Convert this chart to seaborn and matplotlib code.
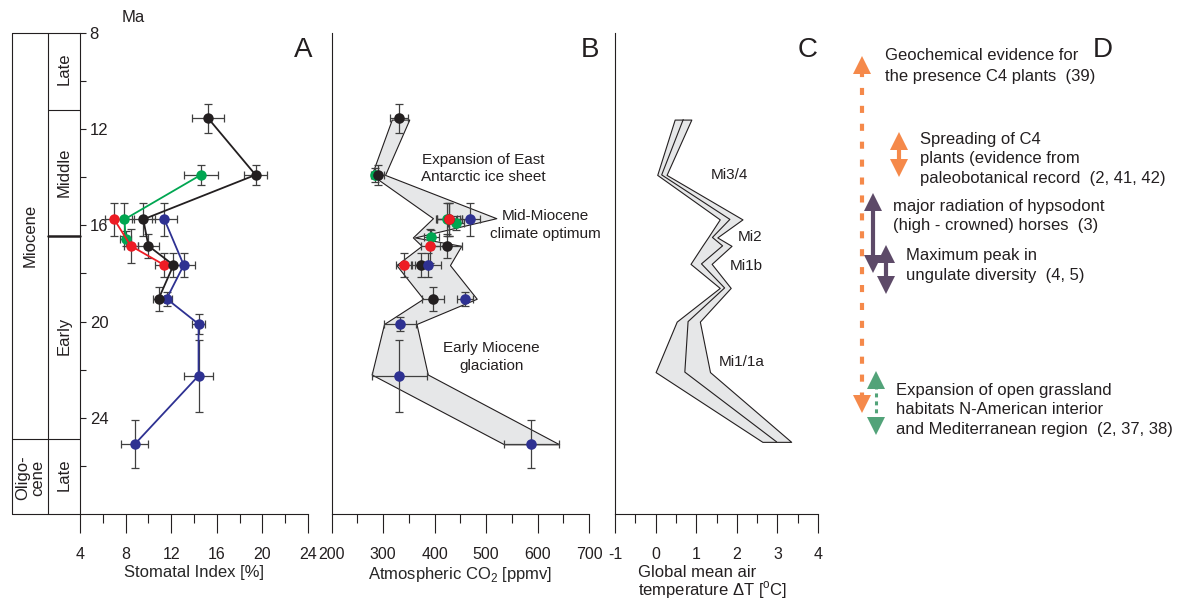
import matplotlib
matplotlib.use('Agg')
import matplotlib.pyplot as plt
import matplotlib.transforms as mtransforms
from matplotlib.ticker import FixedLocator, MultipleLocator
import seaborn as sns

# ---- panel A: stomatal index (Ma, %, errors) ----
a_black_ma = [11.55, 13.9, 15.75, 16.85, 17.65, 19.05]
a_black_si = [15.25, 19.4, 9.55, 10.0, 12.2, 10.9]
a_black_sie = [1.4, 1.0, 1.0, 0.9, 1.0, 0.5]
a_black_mae = [0.6, 0.4, 0.7, 0.5, 0.5, 0.5]

a_green_ma = [13.9, 15.75, 16.55]
a_green_si = [14.6, 7.9, 8.0]
a_green_sie = [1.5, 0.8, 0.5]
a_green_mae = [0.4, 0.7, 0.3]

a_red_ma = [15.75, 16.85, 17.65]
a_red_si = [7.0, 8.45, 11.4]
a_red_sie = [0.8, 0.6, 0.8]
a_red_mae = [0.7, 0.7, 0.5]

a_blue_ma = [15.75, 17.65, 19.05, 20.1, 22.25, 25.1]
a_blue_si = [11.4, 13.1, 11.6, 14.4, 14.4, 8.8]
a_blue_sie = [1.1, 1.0, 0.5, 0.6, 1.25, 1.2]
a_blue_mae = [0.7, 0.5, 0.3, 0.4, 1.5, 1.0]

# ---- panel B: CO2 (Ma, ppmv, errors) ----
b_green_ma = [13.9, 15.75, 15.9, 16.5]
b_green_co2 = [284, 424, 442, 394]
b_green_co2e = [8, 20, 15, 15]
b_green_mae = [0.3, 0.7, 0.3, 0.3]

b_black_ma = [11.55, 13.9, 15.75, 16.85, 17.65, 19.05]
b_black_co2 = [331, 290, 429, 425, 374, 397]
b_black_co2e = [17, 11, 25, 28, 20, 22]
b_black_mae = [0.6, 0.4, 0.7, 0.5, 0.5, 0.5]

b_red_ma = [15.75, 16.85, 17.65]
b_red_co2 = [428, 392, 341]
b_red_co2e = [25, 18, 15]
b_red_mae = [0.7, 0.7, 0.5]

b_blue_ma = [15.75, 17.65, 19.05, 20.1, 22.25, 25.1]
b_blue_co2 = [469, 388, 459, 333, 332, 588]
b_blue_co2e = [20, 25, 15, 32, 54, 53]
b_blue_mae = [0.7, 0.5, 0.3, 0.3, 1.5, 1.0]

# envelope of CO2 estimates
b_env_ma = [11.6, 13.9, 15.7, 16.5, 16.85, 17.65, 19.05, 20.1, 22.2, 25.1]
b_env_left = [317, 278, 397, 358, 375, 326, 378, 302, 278, 535]
b_env_right = [351, 304, 520, 362, 452, 430, 482, 365, 387, 642]

# ---- panel C: global temperature ----
c_ma = [11.6, 13.9, 15.75, 16.5, 16.85, 17.6, 18.6, 20.0, 22.1, 25.0]
c_low = [0.47, 0.04, 1.58, 1.29, 1.15, 0.86, 1.58, 0.52, 0.0, 2.63]
c_mid = [0.68, 0.15, 1.83, 1.40, 1.65, 1.13, 1.70, 0.80, 0.72, 2.98]
c_high = [0.88, 0.27, 2.14, 1.52, 1.87, 1.38, 1.85, 1.09, 1.34, 3.34]

# ---- stratigraphy ----
epoch_bounds = [8, 24.9, 28]
stage_bounds = [8, 11.2, 16.45, 24.9, 28]
stage_names = ['Late', 'Middle', 'Early', 'Late']
stage_label_ma = [9.5, 13.8, 20.6, 26.35]
epoch_names = ['Miocene', 'Oligo-\ncene']
epoch_label_ma = [16.4, 26.5]

# ---- panel D: events ----
arrow_x = [0.063, 0.173, 0.095, 0.134, 0.105]
arrow_top = [8.95, 12.1, 14.67, 16.8, 22.05]
arrow_bottom = [23.8, 14.0, 17.97, 18.85, 24.7]
arrow_kind = ['orange_dash', 'orange', 'purple', 'purple', 'green_dot']

d_lines = ['Geochemical evidence for', 'the presence C4 plants  (39)',
           'Spreading of C4', 'plants (evidence from',
           'paleobotanical record  (2, 41, 42)',
           'major radiation of hypsodont', '(high - crowned) horses  (3)',
           'Maximum peak in', 'ungulate diversity  (4, 5)',
           'Expansion of open grassland', 'habitats N-American interior',
           'and Mediterranean region  (2, 37, 38)']
d_line_x = [0.131, 0.131, 0.233, 0.233, 0.233, 0.155, 0.155, 0.192, 0.192,
            0.163, 0.163, 0.163]
d_line_ma = [8.95, 9.79, 12.42, 13.22, 14.04, 15.21, 16.02, 17.27, 18.07,
             22.88, 23.67, 24.47]

# colours
BLACK = '#231f20'
GREEN = '#00a651'
RED = '#ed1c24'
BLUE = '#2e3192'
ERR = '#404040'
FILL = '#e6e7e8'
ORANGE = '#f5894a'
PURPLE = '#5d4a68'
DGREEN = '#52a379'

sns.set_style('ticks')
plt.rcParams['font.family'] = ['Liberation Sans', 'DejaVu Sans']
plt.rcParams['mathtext.fontset'] = 'custom'
plt.rcParams['mathtext.rm'] = 'Liberation Sans'
plt.rcParams['axes.unicode_minus'] = False
plt.rcParams['text.color'] = BLACK
plt.rcParams['axes.edgecolor'] = BLACK
plt.rcParams['xtick.color'] = BLACK
plt.rcParams['ytick.color'] = BLACK
plt.rcParams['axes.linewidth'] = 0.8

W, H = 1183, 601
fig = plt.figure(figsize=(W / 100, H / 100), dpi=100)
bot = 1 - 514 / H
hgt = 481 / H


def px_axes(x0, x1):
    ax = fig.add_axes([x0 / W, bot, (x1 - x0) / W, hgt])
    ax.set_ylim(28, 8)
    return ax


def style_x(ax, major, minor, label=None):
    ax.xaxis.set_major_locator(MultipleLocator(major))
    ax.xaxis.set_minor_locator(MultipleLocator(minor))
    ax.tick_params(axis='x', which='major', direction='out', length=13.5,
                   width=0.8, pad=10, labelsize=11.5)
    ax.tick_params(axis='x', which='minor', direction='out', length=6.5,
                   width=0.8)
    if label:
        ax.set_xlabel(label, fontsize=12)
        ax.xaxis.set_label_coords(0.5, -0.105)
    sns.despine(ax=ax)
    ax.set_facecolor('none')


# ---- strat column ----
axS = px_axes(12, 80)
axS.set_xlim(0, 1)
axS.axis('off')
split = 0.53
for b in epoch_bounds:
    axS.plot([0, 1], [b, b], color=BLACK, lw=0.8, clip_on=False)
for b in stage_bounds[1:-2]:
    axS.plot([split, 1], [b, b], color=BLACK, lw=1.8 if b > 16 else 0.8,
             clip_on=False)
axS.plot([0, 0], [8, 28], color=BLACK, lw=0.8, clip_on=False)
axS.plot([split, split], [8, 28], color=BLACK, lw=0.8, clip_on=False)
for name, y in zip(stage_names, stage_label_ma):
    axS.text((split + 1) / 2, y, name, rotation=90, ha='center', va='center',
             fontsize=12)
for name, y in zip(epoch_names, epoch_label_ma):
    axS.text(split / 2, y, name, rotation=90, ha='center', va='center',
             fontsize=12, linespacing=1.0)
fig.text(133 / W, 1 - 18 / H, 'Ma', ha='center', va='center', fontsize=12)

# ---- panel A ----
axA = px_axes(80, 308)
axA.set_xlim(4, 24)
style_x(axA, 4, 2, 'Stomatal Index [%]')
axA.yaxis.set_major_locator(FixedLocator([8, 12, 16, 20, 24]))
axA.yaxis.set_minor_locator(FixedLocator([10, 14, 18, 22, 26]))
axA.tick_params(axis='y', which='both', direction='in', length=4, width=0.8,
                pad=-7, labelsize=12)
for lab in axA.get_yticklabels():
    lab.set_horizontalalignment('left')
axA.set_ylabel('')

a_series = [
    (a_green_si, a_green_ma, a_green_sie, a_green_mae, GREEN),
    (a_red_si, a_red_ma, a_red_sie, a_red_mae, RED),
    (a_blue_si, a_blue_ma, a_blue_sie, a_blue_mae, BLUE),
    (a_black_si, a_black_ma, a_black_sie, a_black_mae, BLACK),
]
for si, ma, sie, mae, col in a_series:
    axA.errorbar(si, ma, xerr=sie, yerr=mae, fmt='none', ecolor=ERR,
                 elinewidth=0.9, capsize=3, capthick=0.9, zorder=2)
for si, ma, sie, mae, col in a_series:
    sns.lineplot(x=si, y=ma, sort=False, estimator=None, color=col, lw=1.3,
                 marker='o', markersize=7.5, markeredgewidth=0, ax=axA,
                 zorder=3)
axA.set_ylim(28, 8)
axA.set_xlim(4, 24)

# ---- panel B ----
axB = px_axes(331.5, 589)
axB.set_xlim(200, 700)
style_x(axB, 100, 50, 'Atmospheric CO$_\\mathregular{2}$ [ppmv]')
axB.set_yticks([])
axB.fill_betweenx(b_env_ma, b_env_left, b_env_right, facecolor=FILL,
                  edgecolor=BLACK, lw=0.8, zorder=1)
b_series = [
    (b_green_co2, b_green_ma, b_green_co2e, b_green_mae, GREEN),
    (b_black_co2, b_black_ma, b_black_co2e, b_black_mae, BLACK),
    (b_red_co2, b_red_ma, b_red_co2e, b_red_mae, RED),
    (b_blue_co2, b_blue_ma, b_blue_co2e, b_blue_mae, BLUE),
]
for co2, ma, ce, me, col in b_series:
    axB.errorbar(co2, ma, xerr=ce, yerr=me, fmt='none', ecolor=ERR,
                 elinewidth=0.9, capsize=3, capthick=0.9, zorder=2)
for i, (co2, ma, ce, me, col) in enumerate(b_series):
    sns.scatterplot(x=co2, y=ma, color=col, s=58, linewidth=0, ax=axB,
                    zorder=3 + i)
axB.set_ylim(28, 8)
axB.set_xlim(200, 700)
b_text = [('Expansion of East', 494, 13.3), ('Antarctic ice sheet', 494, 14.0),
          ('Mid-Miocene', 616, 15.6), ('climate optimum', 616, 16.35),
          ('Early Miocene', 511, 21.1), ('glaciation', 511, 21.85)]
for t, x, y in b_text:
    axB.text(x, y, t, ha='center', va='center', fontsize=11)

# ---- panel C ----
axC = px_axes(615, 818)
axC.set_xlim(-1, 4)
style_x(axC, 1, 0.5)
axC.set_yticks([])
axC.fill_betweenx(c_ma, c_low, c_high, facecolor=FILL, edgecolor=BLACK,
                  lw=0.8, zorder=1)
sns.lineplot(x=c_mid, y=c_ma, sort=False, estimator=None, color=BLACK,
             lw=0.8, ax=axC, zorder=2)
axC.set_ylim(28, 8)
axC.set_xlim(-1, 4)
axC.set_xlabel('')
axC.set_ylabel('')
axC.text(0.113, -0.105, 'Global mean air\ntemperature \u0394T [$^\\mathregular{o}$C]',
         transform=axC.transAxes, ha='left', va='top', fontsize=12,
         linespacing=1.0)
c_text = [('Mi3/4', 1.83, 13.9), ('Mi2', 2.32, 16.48), ('Mi1b', 2.24, 17.69),
          ('Mi1/1a', 2.11, 21.67)]
for t, x, y in c_text:
    axC.text(x, y, t, ha='center', va='center', fontsize=11)

# ---- panel letters ----
for letter, x in zip('ABCD', [303, 590, 808, 1103]):
    fig.text(x / W, 1 - 50 / H, letter, ha='center', va='center', fontsize=20)

# ---- panel D ----
axD = px_axes(840, 1183)
axD.set_xlim(0, 1)
axD.axis('off')
kinds = {
    'orange_dash': (ORANGE, (0, (1.7, 2.6)), 3.0),
    'orange': (ORANGE, '-', 3.0),
    'purple': (PURPLE, '-', 3.0),
    'green_dot': (DGREEN, (0, (1.3, 1.3)), 2.2),
}
head = 13
up_tr = mtransforms.offset_copy(axD.transData, fig=fig, x=0, y=-head / 2,
                                units='points')
dn_tr = mtransforms.offset_copy(axD.transData, fig=fig, x=0, y=head / 2,
                                units='points')
order = [0, 4, 1, 2, 3]
for i in order:
    col, ls, lw = kinds[arrow_kind[i]]
    x = arrow_x[i]
    axD.plot([x, x], [arrow_top[i] + 0.6, arrow_bottom[i] - 0.6], color=col,
             lw=lw, ls=ls, solid_capstyle='butt', dash_capstyle='butt',
             zorder=2 + i)
    axD.plot([x], [arrow_top[i]], marker='^', ms=head, color=col, mew=0,
             transform=up_tr, zorder=2 + i)
    axD.plot([x], [arrow_bottom[i]], marker='v', ms=head, color=col, mew=0,
             transform=dn_tr, zorder=2 + i)
for t, x, y in zip(d_lines, d_line_x, d_line_ma):
    axD.text(x, y, t, ha='left', va='center', fontsize=12)

fig.savefig('out.png', dpi=100)
